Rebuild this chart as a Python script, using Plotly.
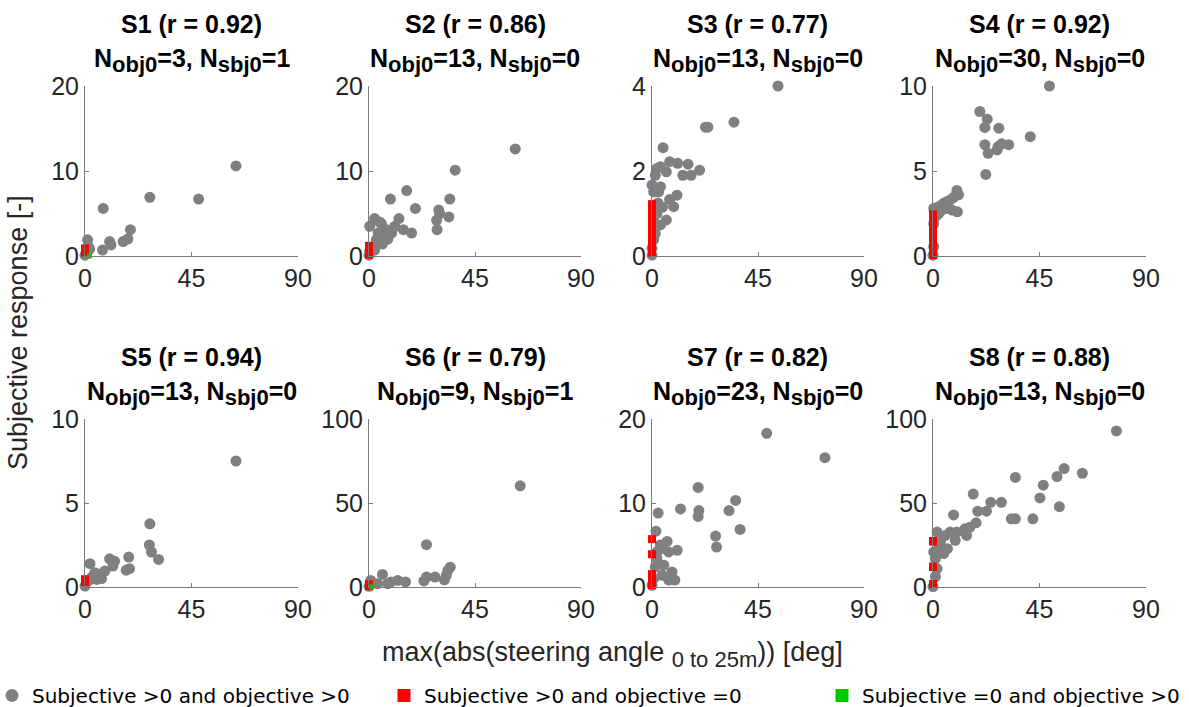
import plotly.graph_objects as go

W, H = 1189, 707

# ---- per-subject data: (steering angle, subjective response) for both >0 ----
s1_x = [63.8, 27.4, 48.0, 7.7, 19.2, 18.1, 16.1, 10.4, 11.0, 7.4, 1.1, 1.4, 2.0, 0.0, 0.6]
s1_y = [10.6, 6.9, 6.7, 5.6, 3.1, 2.0, 1.7, 1.7, 1.3, 0.7, 1.9, 1.1, 0.8, 0.1, 0.3]
s2_x = [62.1, 36.6, 9.1, 16.0, 19.7, 12.7, 29.6, 30.0, 28.7, 34.3, 33.9, 28.9, 14.6, 18.1,
        2.4, 0.3, 5.3, 7.4, 6.0, 3.1, 9.6, 11.0, 5.7, 1.7, 0.3, 2.4, 0.0, 3.9, 4.5, 8.0]
s2_y = [12.6, 10.1, 6.7, 7.7, 5.6, 4.4, 5.4, 5.0, 4.2, 6.7, 4.6, 3.1, 3.1, 2.7,
        4.4, 3.5, 3.8, 3.1, 2.3, 1.9, 2.7, 3.5, 1.4, 1.1, 0.5, 0.7, 0.1, 2.7, 4.0, 2.0]
s3_x = [53.5, 34.8, 22.7, 23.7, 4.7, 7.5, 10.9, 15.3, 13.1, 16.6, 20.2, 3.6, 2.1, 6.1, 1.4,
        0.0, 0.7, 3.6, 2.8, 7.5, 10.6, 9.2, 6.1, 2.1, 3.6, 1.4, 0.7, 0.0, 0.0, 0.7, 4.5, 2.5]
s3_y = [4.0, 3.15, 3.03, 3.03, 2.55, 2.22, 2.18, 2.16, 1.90, 1.90, 2.02, 2.10, 2.06, 1.98, 1.90,
        1.67, 1.51, 1.63, 1.51, 1.33, 1.43, 1.16, 0.85, 1.00, 0.73, 0.53, 0.38, 0.18, 0.02, 0.81, 1.15, 1.25]
s4_x = [49.2, 19.8, 22.9, 21.9, 27.8, 41.1, 21.9, 27.5, 32.0, 29.0, 23.3, 27.1, 22.3,
        10.1, 10.8, 8.7, 7.3, 5.9, 4.5, 3.1, 1.7, 0.3, 10.3, 8.0, 5.9, 3.8, 2.4, 1.0, 0.3, 0.3, 0.0]
s4_y = [10.0, 8.5, 8.05, 7.56, 7.52, 7.02, 6.55, 6.43, 6.55, 6.6, 6.04, 6.24, 4.8,
        3.86, 3.6, 3.45, 3.3, 3.2, 3.1, 2.95, 2.85, 2.8, 2.6, 2.7, 2.8, 2.7, 2.5, 2.3, 1.9, 0.55, 0.05]
s5_x = [63.8, 27.4, 27.2, 28.1, 31.1, 18.5, 18.8, 17.4, 10.4, 12.5, 11.8, 8.4, 2.1, 4.2,
        2.8, 1.4, 0.0, 6.3, 5.0, 3.5, 7.0]
s5_y = [7.5, 3.76, 2.5, 2.08, 1.64, 1.78, 1.09, 1.0, 1.68, 1.54, 1.25, 0.95, 1.39, 0.85,
        0.55, 0.36, 0.06, 0.75, 0.45, 0.65, 0.5]
s6_x = [64.2, 24.4, 34.5, 33.5, 32.8, 32.0, 28.0, 24.4, 23.3, 5.7, 12.2, 15.5, 7.9, 3.6, 0.7, 0.0, 9.3]
s6_y = [60.2, 25.2, 11.8, 9.9, 6.9, 4.3, 5.9, 5.9, 3.6, 7.5, 3.9, 3.0, 2.0, 2.0, 3.9, 0.4, 3.0]
s7_x = [48.7, 73.4, 19.6, 19.9, 19.6, 12.1, 35.5, 32.7, 37.4, 27.0, 27.4, 2.6, 1.7, 6.4, 10.7,
        4.3, 7.1, 2.1, 5.0, 1.4, 8.5, 9.7, 7.1, 4.3, 0.7, 0.0, 2.1, 3.5]
s7_y = [18.3, 15.4, 11.85, 9.1, 8.4, 9.3, 10.3, 9.1, 6.85, 6.06, 4.76, 8.8, 6.65, 5.43, 4.37,
        4.57, 4.17, 4.17, 2.6, 2.4, 1.8, 0.83, 0.83, 1.4, 1.0, 0.2, 3.4, 5.0]
s8_x = [77.5, 55.4, 52.4, 63.1, 34.8, 46.6, 45.2, 53.4, 42.2, 33.1, 34.8, 28.9, 24.4, 22.6, 18.9,
        17.0, 8.7, 18.2, 15.6, 14.2, 13.5, 10.1, 7.3, 9.4, 5.2, 1.7, 6.1, 4.5, 3.1, 0.3, 1.0, 1.7,
        1.0, 0.0, 2.4]
s8_y = [92.9, 70.5, 65.7, 67.7, 65.2, 60.6, 53.0, 47.8, 40.6, 40.6, 40.6, 50.4, 50.4, 45.1, 45.1,
        55.3, 42.9, 38.2, 35.6, 30.7, 34.6, 32.7, 32.7, 27.8, 30.7, 32.7, 22.8, 19.9, 26.8, 20.9, 16.9, 11.0,
        6.1, 0.2, 23.0]

# subjective > 0 while objective = 0 (drawn at angle 0)
s1_red = [0.9, 0.6, 0.4]
s2_red = [0.15, 0.25, 0.3, 0.4, 0.5, 0.55, 0.6, 0.7, 0.8, 0.9, 1.0, 1.1, 1.2]
s3_red = [0.08, 0.17, 0.27, 0.35, 0.44, 0.55, 0.64, 0.73, 0.82, 0.93, 1.02, 1.12, 1.22]
s4_red = [0.05, 0.15, 0.25, 0.35, 0.45, 0.55, 0.65, 0.75, 0.85, 0.95, 1.05, 1.15, 1.25, 1.35, 1.45,
          1.55, 1.65, 1.75, 1.85, 1.95, 2.05, 2.15, 2.25, 2.35, 2.45, 0.3, 0.6, 1.0, 1.5, 2.0]
s5_red = [0.36, 0.3, 0.4, 0.45, 0.35, 0.3, 0.4, 0.36, 0.3, 0.45, 0.4, 0.35, 0.3]
s6_red = [1.5, 1.0, 0.8, 1.2, 0.5, 1.0, 1.5, 0.8, 1.2]
s7_red = [5.7, 3.9, 1.5, 1.0, 0.63, 0.24, 1.5, 1.0, 0.63, 0.24, 1.2, 0.8, 0.4, 1.5, 1.0, 0.63,
          0.24, 1.2, 0.8, 0.4, 1.0, 0.63, 0.24]
s8_red = [27.2, 12.0, 1.8, 27.2, 12.0, 1.8, 12.0, 1.8, 27.2, 1.8, 12.0, 1.8, 1.8]

# subjective = 0 while objective > 0 (drawn at response 0)
s1_green = [1.8]
s2_green, s3_green, s4_green, s5_green = [], [], [], []
s6_green = [1.2]
s7_green, s8_green = [], []

subjects = ["S1", "S2", "S3", "S4", "S5", "S6", "S7", "S8"]
r_values = ["0.92", "0.86", "0.77", "0.92", "0.94", "0.79", "0.82", "0.88"]
n_obj0 = [3, 13, 13, 30, 13, 9, 23, 13]
n_sbj0 = [1, 0, 0, 0, 0, 1, 0, 0]
y_max = [20, 20, 4, 10, 10, 100, 20, 100]
x_ticks = [0, 45, 90]

gx = [s1_x, s2_x, s3_x, s4_x, s5_x, s6_x, s7_x, s8_x]
gy = [s1_y, s2_y, s3_y, s4_y, s5_y, s6_y, s7_y, s8_y]
reds = [s1_red, s2_red, s3_red, s4_red, s5_red, s6_red, s7_red, s8_red]
greens = [s1_green, s2_green, s3_green, s4_green, s5_green, s6_green, s7_green, s8_green]

GRAY = "#808080"
RED = "#ff0000"
GREEN = "#00c800"
AXIS = "#7a7a7a"
TXT = "#262626"
FONT = "Liberation Sans, Arial, sans-serif"
LEG_FONT = "DejaVu Sans, Verdana, sans-serif"

# panel placement in pixels (left, right) and (top, bottom)
col_px = [(85, 298), (369, 581), (652, 864), (933, 1146)]
row_px = [(86, 256), (419, 587)]


def sub(txt, size):
    return f"<sub><span style='font-size:{size}px'>{txt}</span></sub>"


fig = go.Figure()
layout = {}
annotations = []

for i in range(8):
    r, c = divmod(i, 4)
    xa = "x" if i == 0 else f"x{i + 1}"
    ya = "y" if i == 0 else f"y{i + 1}"
    xl, xr = col_px[c]
    yt, yb = row_px[r]
    key = "" if i == 0 else str(i + 1)
    layout[f"xaxis{key}"] = dict(
        domain=[xl / W, xr / W], anchor=ya, range=[0, 90], tickvals=x_ticks,
        ticks="inside", ticklen=4, tickcolor=AXIS, showline=True, linecolor=AXIS,
        linewidth=1, showgrid=False, zeroline=False,
        tickfont=dict(family=FONT, size=25, color=TXT),
    )
    ym = y_max[i]
    layout[f"yaxis{key}"] = dict(
        domain=[1 - yb / H, 1 - yt / H], anchor=xa, range=[0, ym],
        tickvals=[0, ym / 2, ym], ticktext=[str(v) for v in (0, ym // 2, ym)],
        ticks="inside", ticklen=4, tickcolor=AXIS, showline=True, linecolor=AXIS,
        linewidth=1, showgrid=False, zeroline=False,
        tickfont=dict(family=FONT, size=25, color=TXT),
    )
    fig.add_trace(go.Scatter(
        x=gx[i], y=gy[i], xaxis=xa, yaxis=ya, mode="markers",
        marker=dict(symbol="circle", size=11, color=GRAY, line=dict(width=0)),
        cliponaxis=False, showlegend=False))
    fig.add_trace(go.Scatter(
        x=[0] * len(reds[i]), y=reds[i], xaxis=xa, yaxis=ya, mode="markers",
        marker=dict(symbol="square", size=8, color=RED, line=dict(width=0)),
        cliponaxis=False, showlegend=False, hoverinfo="skip"))
    fig.add_trace(go.Scatter(
        x=greens[i], y=[0] * len(greens[i]), xaxis=xa, yaxis=ya, mode="markers",
        marker=dict(symbol="square", size=5, color=GREEN, line=dict(width=0)),
        cliponaxis=False, showlegend=False, hoverinfo="skip"))

    cx = (xl + xr) / 2 / W
    annotations.append(dict(
        x=cx, y=1 - (yt - 62) / H, xref="paper", yref="paper", showarrow=False,
        xanchor="center", yanchor="middle",
        text=f"<b>{subjects[i]} (r = {r_values[i]})</b>",
        font=dict(family=FONT, size=25, color="#000000")))
    annotations.append(dict(
        x=cx, y=1 - (yt - 26) / H, xref="paper", yref="paper", showarrow=False,
        xanchor="center", yanchor="middle",
        text=f"<b>N{sub('obj0', 22)}={n_obj0[i]}, N{sub('sbj0', 22)}={n_sbj0[i]}</b>",
        font=dict(family=FONT, size=25, color="#000000")))

# shared axis titles
annotations.append(dict(
    x=612 / W, y=1 - 654 / H, xref="paper", yref="paper", showarrow=False,
    xanchor="center", yanchor="middle",
    text=f"max(abs(steering angle {sub('0 to 25m', 22)})) [deg]",
    font=dict(family=FONT, size=27, color=TXT)))
annotations.append(dict(
    x=18 / W, y=1 - 333 / H, xref="paper", yref="paper", showarrow=False,
    xanchor="center", yanchor="middle", textangle=-90,
    text="Subjective response [-]",
    font=dict(family=FONT, size=27, color=TXT)))

# legend entries, each in its own legend box along the bottom edge
legend_items = [("Subjective >0 and objective >0", "circle", GRAY, "legend", -8),
                ("Subjective >0 and objective =0", "square", RED, "legend2", 384),
                ("Subjective =0 and objective >0", "square", GREEN, "legend3", 822)]
legend_layout = {}
for name, sym, col, leg, lx in legend_items:
    fig.add_trace(go.Scatter(
        x=[None], y=[None], mode="markers", name=name, legend=leg,
        marker=dict(symbol=sym, size=13, color=col, line=dict(width=0)),
        showlegend=True))
    legend_layout[leg] = dict(
        x=lx / W, xanchor="left", y=1 - 676 / H, yanchor="top",
        font=dict(family=LEG_FONT, size=20, color="#000000"),
        itemsizing="trace", bgcolor="rgba(0,0,0,0)", borderwidth=0)

fig.update_layout(
    width=W, height=H, margin=dict(l=0, r=0, t=0, b=0, autoexpand=False),
    paper_bgcolor="white", plot_bgcolor="white",
    annotations=annotations,
    **legend_layout,
    **layout,
)

fig.write_html("out.html")
